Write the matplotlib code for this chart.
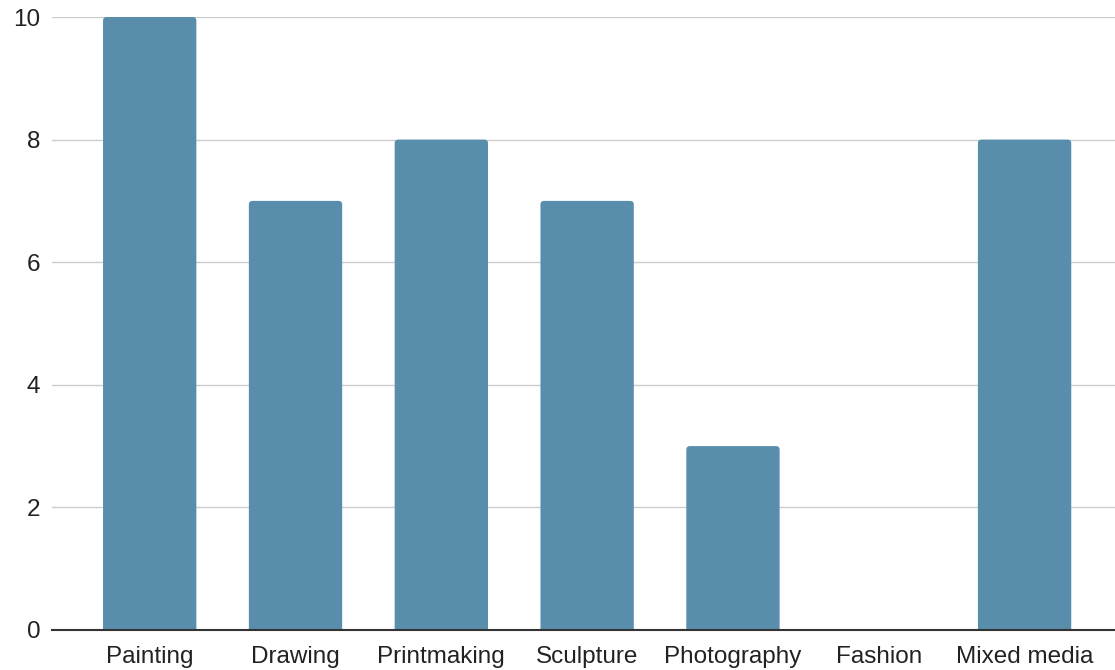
import matplotlib
matplotlib.use('agg')
import matplotlib.pyplot as plt
from matplotlib.patches import FancyBboxPatch

categories = ['Painting', 'Drawing', 'Printmaking', 'Sculpture',
              'Photography', 'Fashion', 'Mixed media']
counts = [10, 7, 8, 7, 3, 0, 8]
yticks = [0, 2, 4, 6, 8, 10]

plt.rcParams['font.family'] = ['Liberation Sans', 'DejaVu Sans']

fig = plt.figure(figsize=(11.15, 6.7), dpi=100)
ax = fig.add_axes([52 / 1115, 40 / 670, 1063 / 1115, 613 / 670])

x = range(len(categories))
bars = ax.bar(x, counts, width=0.64, color='#588eab', zorder=2)

ax.set_xlim(-0.67, 6.62)
ax.set_ylim(0, 10)

# swap the plain rectangles for ones with slightly rounded corners;
# the bottom is pushed below zero so only the top corners show
dip = 0.1
for b in bars:
    h = b.get_height()
    if h <= 0:
        b.remove()
        continue
    rounded = FancyBboxPatch((b.get_x(), -dip), b.get_width(), h + dip,
                             boxstyle='round,pad=0,rounding_size=0.025',
                             mutation_aspect=2.38, facecolor='#588eab',
                             edgecolor='none', zorder=2)
    ax.add_patch(rounded)
    b.remove()

ax.set_yticks(yticks)
ax.set_xticks(list(x))
ax.set_xticklabels(categories)

ax.grid(axis='y', color='#cccccc', linewidth=1, zorder=0)
for s in ['top', 'right', 'left']:
    ax.spines[s].set_visible(False)
ax.spines['bottom'].set_color('#333333')
ax.spines['bottom'].set_linewidth(1.5)
ax.spines['bottom'].set_zorder(3)

ax.tick_params(axis='both', length=0, labelsize=17.5, colors='#222222')
ax.tick_params(axis='y', pad=8.5)
ax.tick_params(axis='x', pad=11.5)

fig.savefig('out.png', dpi=100)
